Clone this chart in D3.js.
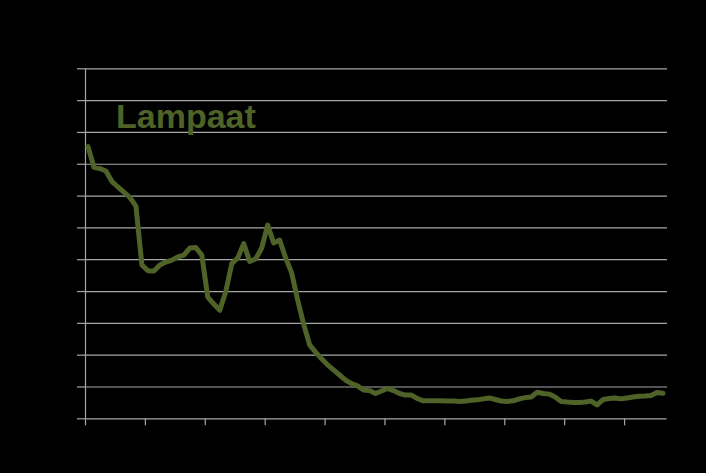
<!DOCTYPE html>
<html>
<head>
<meta charset="utf-8">
<script src="https://cdn.jsdelivr.net/npm/d3@7/dist/d3.min.js"></script>
<style>
  html, body { margin: 0; padding: 0; background: #000; }
  svg { display: block; }
</style>
</head>
<body>
<svg id="chart" width="706" height="473"></svg>
<script>
// ---- data ----
const title = "Lampaat";
const years = d3.range(1910, 2007); // 97 annual categories (labels not visible in the source)
const values = [
  854, 789, 785, 777, 744, 727, 711, 694, 667, 482,
  464, 463, 482, 491, 497, 507, 513, 535, 537, 513,
  381, 359, 340, 398, 486, 504, 549, 493, 501, 535,
  607, 551, 560, 504, 457, 372, 296, 231, 208, 187,
  168, 152, 136, 120, 109, 102, 89, 87, 78, 86,
  94, 87, 78, 73, 73, 62, 55, 55, 55, 55,
  54, 54, 53, 54, 57, 58, 61, 64, 59, 54,
  53, 55, 61, 65, 67, 82, 78, 76, 67, 53,
  51, 50, 50, 51, 54, 42, 59, 62, 64, 61,
  64, 67, 69, 70, 72, 81, 79
];
const yMax = 1100;
const yStep = 100;
const xTickEvery = 10;

// ---- layout ----
const svg = d3.select("#chart");
const mLeft = 85, mRight = 666, mTop = 68.3, mBottom = 418.3;
const lineColor = "#4f6228";
const gridColor = "#a6a6a6";

const x = d3.scaleBand().domain(years).range([mLeft, mRight]).padding(0);
const xEdge = d3.scaleLinear().domain([0, years.length]).range([mLeft, mRight]);
const y = d3.scaleLinear().domain([0, yMax]).range([mBottom, mTop]);

// gridlines
const yTicks = d3.range(yStep, yMax + 1, yStep);
svg.append("g")
  .attr("transform", `translate(${mLeft},0)`)
  .call(d3.axisLeft(y).tickValues(yTicks).tickSize(-(mRight - mLeft + 1)).tickFormat(""))
  .call(g => g.select(".domain").remove())
  .call(g => g.selectAll("line").attr("stroke", gridColor).attr("stroke-width", 1.2));

// y axis with outer ticks
svg.append("g")
  .attr("transform", `translate(${mLeft},0)`)
  .call(d3.axisLeft(y).tickValues(d3.range(0, yMax + 1, yStep)).tickSize(8).tickSizeOuter(0).tickFormat(""))
  .call(g => g.select(".domain").attr("stroke", gridColor).attr("stroke-width", 1.2))
  .call(g => g.selectAll("line").attr("stroke", gridColor).attr("stroke-width", 1.2));

// x axis, ticks at category boundaries
const xTickIdx = d3.range(0, years.length, xTickEvery);
svg.append("g")
  .attr("transform", `translate(0,${mBottom})`)
  .call(d3.axisBottom(xEdge).tickValues(xTickIdx).tickSize(7).tickSizeOuter(0).tickFormat(""))
  .call(g => g.select(".domain").attr("stroke", gridColor).attr("stroke-width", 1.2))
  .call(g => g.selectAll("line").attr("stroke", gridColor).attr("stroke-width", 1.2));

// line
const line = d3.line()
  .x((d, i) => x(years[i]) + x.bandwidth() / 2)
  .y(d => y(d));

svg.append("path")
  .datum(values)
  .attr("fill", "none")
  .attr("stroke", lineColor)
  .attr("stroke-width", 5)
  .attr("stroke-linejoin", "round")
  .attr("stroke-linecap", "round")
  .attr("d", line);

// title
svg.append("text")
  .attr("x", 116)
  .attr("y", 128)
  .attr("fill", lineColor)
  .attr("font-family", "'Liberation Sans', Arial, sans-serif")
  .attr("font-weight", "bold")
  .attr("font-size", 34)
  .text(title);
</script>
</body>
</html>
